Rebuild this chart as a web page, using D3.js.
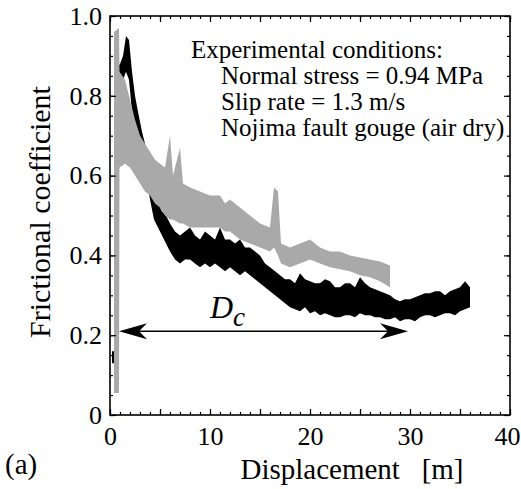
<!DOCTYPE html>
<html><head><meta charset="utf-8">
<script src="https://cdn.jsdelivr.net/npm/d3@7"></script>
<style>
body{margin:0;background:#fff;}
svg text{font-family:"Liberation Serif","Times New Roman","DejaVu Serif",serif !important;fill:#000;}
</style></head>
<body><svg id="c" width="521" height="489"></svg>
<script>
// ---- data ----
const blackD  = [0.2,0.55,0.6,1.0,1.3,1.6,1.9,2.2,2.5,2.8,3.2,3.6,4.0,4.4,4.8,5.2,5.6,6.0,6.5,7.0,7.5,8.0,8.5,9.0,9.5,10,10.5,11,11.5,12,12.5,13,13.5,14,14.5,15,15.5,16,16.5,17,17.5,18,18.5,19,19.5,20,20.5,21,21.5,22,22.5,23,23.5,24,24.5,25,25.5,26,26.5,27,27.5,28,28.5,29,29.5,30,30.5,31,31.5,32,32.5,33,33.5,34,34.5,35,35.5,36];
const blackLo = [0.13,0.13,0.80,0.82,0.84,0.86,0.84,0.76,0.72,0.68,0.64,0.60,0.54,0.49,0.47,0.45,0.43,0.41,0.39,0.38,0.39,0.39,0.38,0.37,0.38,0.37,0.38,0.37,0.36,0.37,0.36,0.35,0.36,0.35,0.34,0.33,0.32,0.31,0.30,0.29,0.28,0.27,0.265,0.26,0.27,0.255,0.26,0.25,0.255,0.25,0.245,0.245,0.25,0.25,0.245,0.255,0.25,0.25,0.245,0.245,0.24,0.24,0.245,0.235,0.24,0.24,0.235,0.245,0.25,0.25,0.245,0.25,0.255,0.255,0.25,0.26,0.265,0.27];
const blackHi = [0.16,0.16,0.87,0.88,0.90,0.95,0.94,0.86,0.80,0.76,0.71,0.67,0.62,0.57,0.53,0.51,0.50,0.48,0.46,0.45,0.46,0.47,0.45,0.44,0.46,0.45,0.44,0.47,0.44,0.44,0.43,0.44,0.42,0.42,0.41,0.40,0.38,0.37,0.36,0.35,0.34,0.34,0.33,0.355,0.34,0.335,0.33,0.33,0.34,0.335,0.32,0.32,0.33,0.33,0.32,0.345,0.33,0.32,0.315,0.31,0.305,0.30,0.29,0.285,0.29,0.29,0.295,0.30,0.305,0.305,0.31,0.31,0.30,0.31,0.315,0.32,0.335,0.32];

const grayD  = [0.4,0.9,0.95,1.5,2.0,2.5,3.0,3.5,4.0,4.5,5.0,5.5,6.0,6.3,7.0,7.3,8.0,9.0,10,11,11.5,12,13,14,15,16,16.4,16.8,17.1,18,19,20,21,22,23,24,25,26,27,28];
const grayLo = [0.055,0.055,0.62,0.63,0.62,0.60,0.58,0.56,0.55,0.53,0.52,0.50,0.49,0.49,0.48,0.48,0.47,0.47,0.47,0.47,0.46,0.46,0.44,0.43,0.42,0.41,0.42,0.40,0.38,0.37,0.38,0.39,0.38,0.37,0.365,0.36,0.35,0.345,0.335,0.32];
const grayHi = [0.96,0.97,0.86,0.84,0.79,0.74,0.70,0.68,0.66,0.64,0.63,0.62,0.70,0.60,0.67,0.58,0.57,0.56,0.55,0.55,0.53,0.54,0.52,0.50,0.48,0.47,0.57,0.56,0.43,0.42,0.43,0.44,0.42,0.41,0.41,0.40,0.395,0.39,0.385,0.375];

const xTickLabels = [0,10,20,30,40];
const yTickLabels = [0,0.2,0.4,0.6,0.8,1.0];
const conditions = ["Experimental conditions:","Normal stress = 0.94 MPa","Slip rate = 1.3 m/s","Nojima fault gouge (air dry)"];
const arrowSpan = [0.9, 29.8];
const arrowLevel = 0.21;

// ---- layout ----
const FONT = '"Liberation Serif","Times New Roman","DejaVu Serif",serif';
const svg = d3.select("#c").attr("font-family",FONT);
const L=110, R=510, T=16, B=415;
const x = d3.scaleLinear().domain([0,40]).range([L,R]);
const y = d3.scaleLinear().domain([0,1]).range([B,T]);

const defs = svg.append("defs");
defs.append("filter").attr("id","soft").append("feGaussianBlur").attr("stdDeviation",0.7);

function band(D,lo,hi,color){
  const pts = D.map((d,i)=>({d,lo:lo[i],hi:hi[i]}));
  svg.append("path").datum(pts)
    .attr("d", d3.area().x(p=>x(p.d)).y0(p=>y(p.lo)).y1(p=>y(p.hi)))
    .attr("fill",color).attr("filter","url(#soft)");
}
band(blackD,blackLo,blackHi,"#000");
band(grayD,grayLo,grayHi,"#a9a9a9");

// frame
svg.append("rect").attr("x",L).attr("y",T).attr("width",R-L).attr("height",B-T)
  .attr("fill","none").attr("stroke","#000").attr("stroke-width",1.6);

function ticks(axisFn, scale, vals, size, tx, ty){
  const g = svg.append("g").attr("transform",`translate(${tx},${ty})`)
    .call(axisFn(scale).tickValues(vals).tickSize(size).tickFormat(""));
  g.select(".domain").remove();
  g.selectAll("line").attr("stroke","#000").attr("stroke-width",1.2);
}
const xMinor = d3.range(0,41,1), xMajor = d3.range(0,41,5);
const yMinor = d3.range(0,1.001,0.05), yMajor = d3.range(0,1.001,0.2);
ticks(d3.axisBottom,x,xMinor,-3,0,B); ticks(d3.axisBottom,x,xMajor,-6,0,B);
ticks(d3.axisTop,x,xMinor,-3,0,T);    ticks(d3.axisTop,x,xMajor,-6,0,T);
ticks(d3.axisLeft,y,yMinor,-3,L,0);   ticks(d3.axisLeft,y,yMajor,-6,L,0);
ticks(d3.axisRight,y,yMinor,-3,R,0);  ticks(d3.axisRight,y,yMajor,-6,R,0);

// tick labels
const gx = svg.append("g").attr("transform",`translate(0,${B})`)
  .call(d3.axisBottom(x).tickValues(xTickLabels).tickSize(0).tickPadding(12).tickFormat(d3.format("d")));
gx.attr("font-family",FONT).attr("font-size",26);
gx.select(".domain").remove();
gx.selectAll(".tick").filter(d=>d===40).select("text").attr("text-anchor","end").attr("x",10);
const gy = svg.append("g").attr("transform",`translate(${L},0)`)
  .call(d3.axisLeft(y).tickValues(yTickLabels).tickSize(0).tickPadding(8).tickFormat(d=>d===0?"0":d3.format(".1f")(d)));
gy.attr("font-family",FONT).attr("font-size",26);
gy.select(".domain").remove();

// axis titles
svg.append("text").attr("x",352).attr("y",479).attr("text-anchor","middle")
  .attr("font-size",29).attr("xml:space","preserve").text("Displacement   [m]");
svg.append("text").attr("transform","translate(50,212) rotate(-90)").attr("text-anchor","middle")
  .attr("font-size",30).text("Frictional coefficient");
svg.append("text").attr("x",5).attr("y",474).attr("font-size",29).text("(a)");

// conditions
conditions.forEach((t,i)=>{
  svg.append("text").attr("x", i===0?191:221).attr("y",58+i*26)
    .attr("font-size",25).text(t);
});

// Dc arrow
const ay = y(arrowLevel), ax0 = x(arrowSpan[0]), ax1 = x(arrowSpan[1]);
svg.append("line").attr("x1",ax0+10).attr("x2",ax1-10).attr("y1",ay).attr("y2",ay)
  .attr("stroke","#000").attr("stroke-width",1.5);
function head(tx,dir){
  const p = [[0,0],[-28,-8],[-20,0],[-28,8]].map(([a,b])=>[tx+dir*a, ay+b]);
  svg.append("path").attr("d","M"+p.join("L")+"Z").attr("fill","#000");
}
head(ax0,-1); head(ax1,1);
const dc = svg.append("text").attr("x",210).attr("y",318).attr("font-size",32).attr("font-style","italic");
dc.append("tspan").text("D");
dc.append("tspan").attr("dy",8).attr("font-size",27).text("c");
</script></body></html>
